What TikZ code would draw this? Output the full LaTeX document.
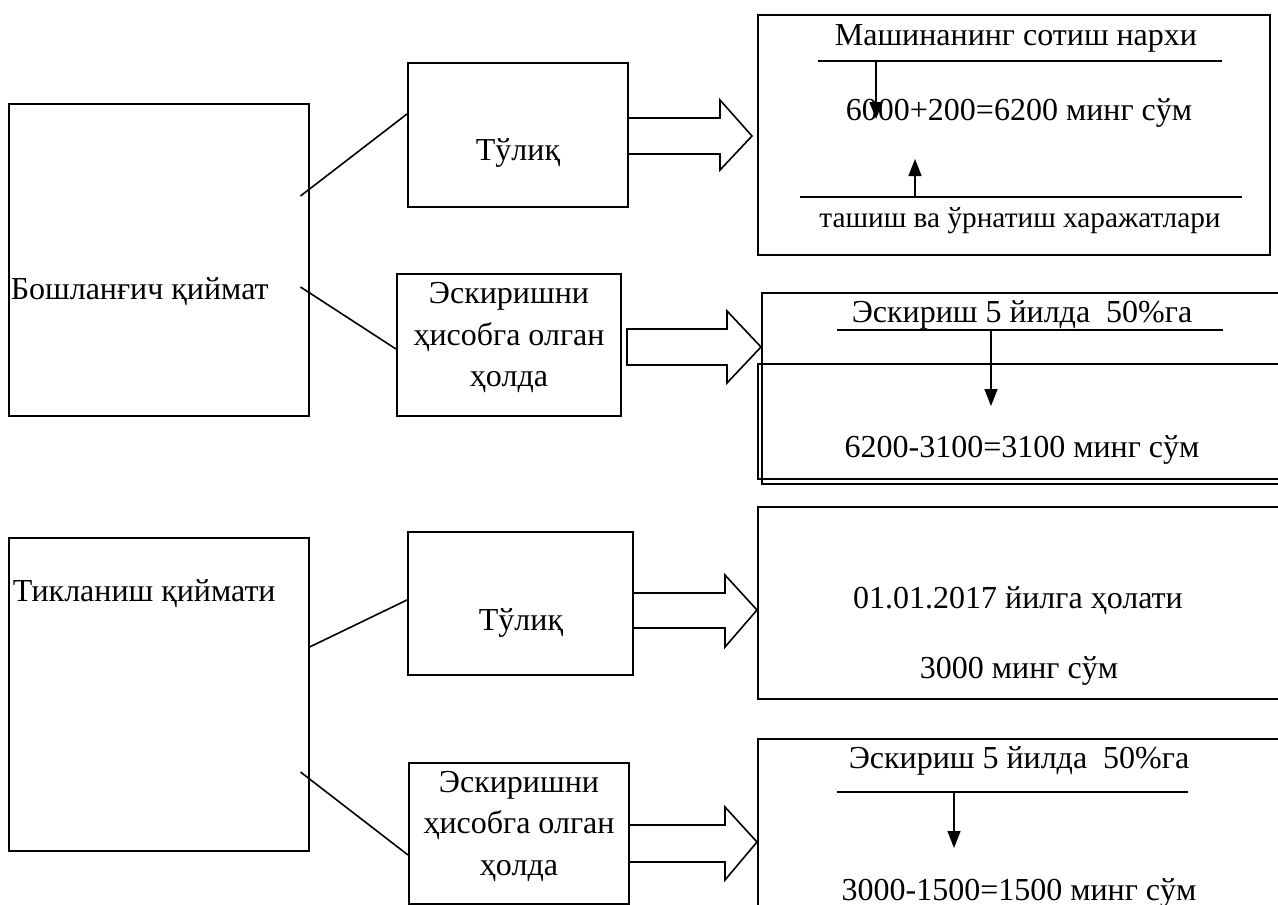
\documentclass[tikz,border=0pt]{standalone}
\usepackage{fontspec}
\setmainfont{Liberation Serif}
\usetikzlibrary{arrows.meta,calc}
\begin{document}
\begin{tikzpicture}[x=1pt,y=-1pt,line width=1.6pt,
  box/.style={draw,inner sep=0pt,anchor=north west},
  txt/.style={inner sep=0pt,anchor=base,font=\fontsize{32}{41}\selectfont},
  txtl/.style={txt,anchor=base west},
  blockarrow/.style={draw,line join=miter},
  tip/.style={-{Triangle[length=17pt,width=13pt]}}]
\useasboundingbox (0,0) rectangle (1278,905);

% left boxes
\node[box,minimum width=300pt,minimum height=312pt] (L1) at (8,103) {};
\node[box,minimum width=300pt,minimum height=313pt] (L2) at (8,537) {};
\node[txtl] (L1t) at (10,299) {Бошланғич қиймат};
\node[txtl] (L2t) at (12,601) {Тикланиш қиймати};

% middle boxes
\node[box,minimum width=220pt,minimum height=144pt] (T1) at (407,62) {};
\node[box,minimum width=224pt,minimum height=142pt] (E1) at (396,273) {};
\node[box,minimum width=225pt,minimum height=143pt] (T2) at (407,531) {};
\node[box,minimum width=220pt,minimum height=141pt] (E2) at (408,762) {};
\node[txt] (T1t) at (518,160) {Тўлиқ};
\node[txt] (T2t) at (521,630) {Тўлиқ};
\node[txt] (E1a) at (509,303) {Эскиришни};
\node[txt] (E1b) at (509,345) {ҳисобга олган};
\node[txt] (E1c) at (509,386) {ҳолда};
\node[txt] (E2a) at (519,792) {Эскиришни};
\node[txt] (E2b) at (519,833) {ҳисобга олган};
\node[txt] (E2c) at (519,875) {ҳолда};

% connectors from left boxes
\coordinate (c1) at (300.5,196);
\coordinate (c2) at (300.5,287);
\coordinate (c3) at (L2.east |- 0,647);
\coordinate (c4) at (300.5,772);
\draw (c1) -- ($(T1.north west)+(0,52)$);
\draw (c2) -- ($(E1.north west)+(0,76)$);
\draw (c3) -- ($(T2.north west)+(0,69)$);
\draw (c4) -- ($(E2.north west)+(0,93)$);

% right boxes
\node[box,minimum width=512pt,minimum height=240pt] (R1) at (757,14) {};
\node[box,minimum width=560pt,minimum height=191pt] (R2) at (761,292) {};
\node[box,minimum width=564pt,minimum height=115pt] (R2i) at (757,363) {};
\node[box,minimum width=560pt,minimum height=192pt] (R3) at (757,506) {};
\node[box,minimum width=560pt,minimum height=200pt] (R4) at (757,738) {};

% block arrows
\draw[blockarrow] (T1.east |- 0,118) -- (720,118) -- (720,100) -- (752,136) -- (720,170) -- (720,154) -- (T1.east |- 0,154);
\draw[blockarrow] (627,329) -- (727,329) -- (727,311) -- (R2.west |- 0,347) -- (727,383) -- (727,365) -- (627,365) -- cycle;
\draw[blockarrow] (T2.east |- 0,593) -- (725,593) -- (725,575) -- (R3.west |- 0,610) -- (725,647) -- (725,628) -- (T2.east |- 0,628);
\draw[blockarrow] (E2.east |- 0,825) -- (725,825) -- (725,807) -- (R4.west |- 0,842) -- (725,880) -- (725,862) -- (E2.east |- 0,862);

% R1 contents
\node[txt] (R1a) at (1016,45) {Машинанинг сотиш нархи};
\node[txt] (R1b) at (1019,120) {6000+200=6200 минг сўм};
\node[txt,font=\fontsize{29.3}{36}\selectfont] (R1c) at (1020,227) {ташиш ва ўрнатиш харажатлари};
\coordinate (r1l1a) at (818,61); \coordinate (r1l1b) at (1222,61);
\coordinate (r1l2a) at (800,197); \coordinate (r1l2b) at (1242,197);
\draw (r1l1a) -- (r1l1b);
\draw (r1l2a) -- (r1l2b);
\draw[tip] (876,61) -- (876,119);
\draw[tip] (915,197) -- (915,159);

% R2 contents
\node[txt] (R2a) at (1022,322) {Эскириш 5 йилда\ \ 50\%га};
\node[txt] (R2b) at (1022,457) {6200-3100=3100 минг сўм};
\draw (837,330) -- (1223,330);
\draw[tip] (991,330) -- (991,406);

% R3 contents
\node[txt] (R3a) at (1018,608) {01.01.2017 йилга ҳолати};
\node[txt] (R3b) at (1019,678) {3000 минг сўм};

% R4 contents
\node[txt] (R4a) at (1019,768) {Эскириш 5 йилда\ \ 50\%га};
\node[txt] (R4b) at (1019,900) {3000-1500=1500 минг сўм};
\draw (837,792) -- (1188,792);
\draw[tip] (954,792) -- (954,848);
\end{tikzpicture}
\end{document}
